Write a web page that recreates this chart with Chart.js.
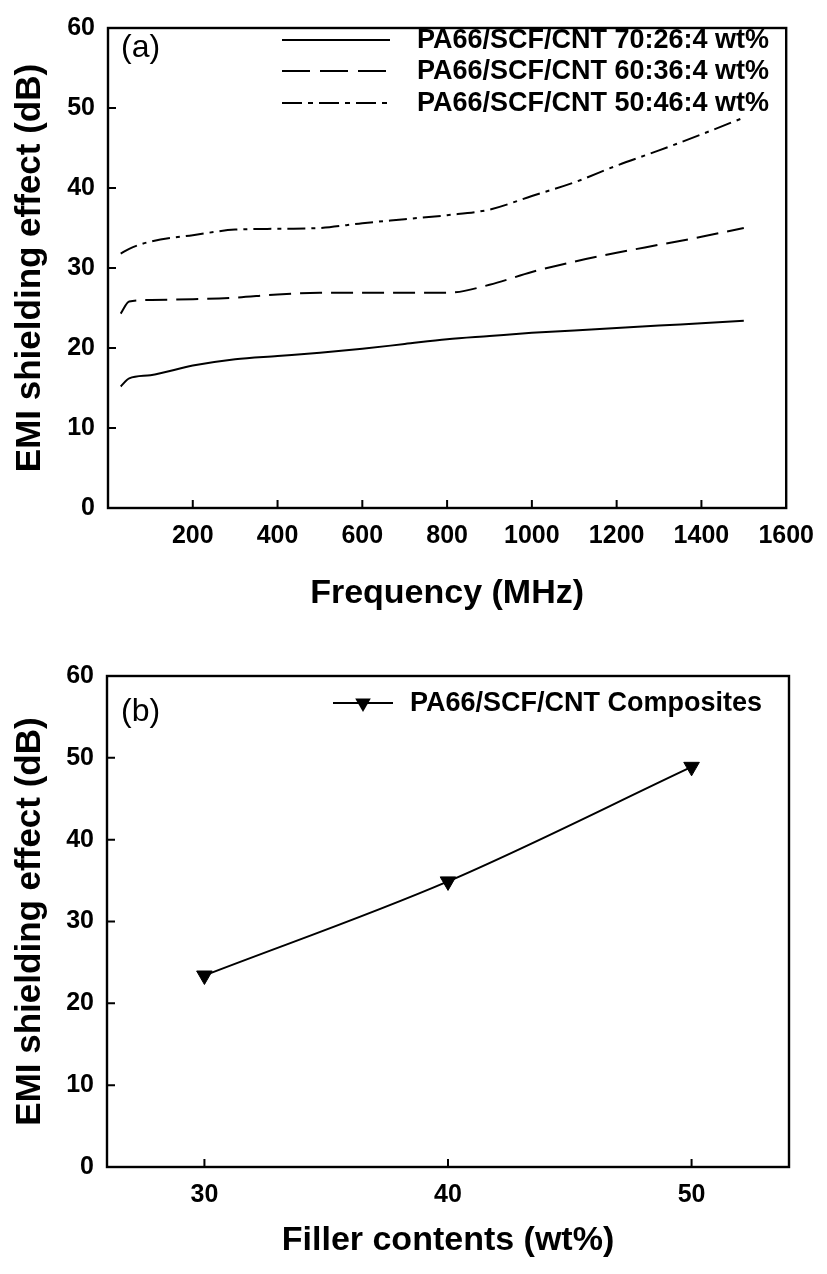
<!DOCTYPE html>
<html><head><meta charset="utf-8">
<script src="https://cdn.jsdelivr.net/npm/chart.js@4"></script>
<style>
html,body{margin:0;padding:0;background:#fff;}
#wrap{width:827px;height:1274px;position:relative;background:#fff;}
.box{position:absolute;left:0;width:827px;height:637px;}
canvas{display:block;}
</style></head><body>
<div id="wrap">
<div class="box" style="top:0"><canvas id="ca" width="827" height="637"></canvas></div>
<div class="box" style="top:637px"><canvas id="cb" width="827" height="637"></canvas></div>
</div>
<script>
// ---------- data ----------
const freqMHz = [30, 50, 100, 200, 300, 400, 500, 600, 700, 800, 900, 1000, 1100, 1200, 1300, 1400, 1500];
const se70 = [15.2, 16.2, 16.6, 17.8, 18.6, 19.0, 19.4, 19.9, 20.5, 21.1, 21.5, 21.9, 22.2, 22.5, 22.8, 23.1, 23.4];
const se60 = [24.3, 25.8, 26.0, 26.1, 26.3, 26.7, 26.9, 26.9, 26.9, 26.9, 27.9, 29.5, 30.8, 31.9, 32.9, 33.9, 35.0];
const se50 = [31.8, 32.4, 33.3, 34.1, 34.8, 34.9, 35.0, 35.6, 36.1, 36.6, 37.3, 39.0, 40.7, 42.8, 44.7, 46.7, 48.8];
const seriesLabels = ['PA66/SCF/CNT 70:26:4 wt%', 'PA66/SCF/CNT 60:36:4 wt%', 'PA66/SCF/CNT 50:46:4 wt%'];

const fillerWt = [30, 40, 50];
const seFiller = [23.4, 34.9, 48.9];
const fillerLabel = 'PA66/SCF/CNT Composites';

const titleA = { x: 'Frequency (MHz)', y: 'EMI shielding effect (dB)' };
const titleB = { x: 'Filler contents (wt%)', y: 'EMI shielding effect (dB)' };

// ---------- helpers ----------
const FONT = "'Liberation Sans', Arial, Helvetica, sans-serif";
const pts = (xs, ys) => xs.map((x, i) => ({ x: x, y: ys[i] }));

const framePlugin = {
  id: 'frame',
  afterDraw(chart) {
    const { ctx, chartArea: a, scales } = chart;
    ctx.save();
    ctx.strokeStyle = '#000';
    ctx.lineWidth = 2.4;
    ctx.setLineDash([]);
    ctx.strokeRect(a.left, a.top, a.right - a.left, a.bottom - a.top);
    const tl = 8;
    ctx.lineWidth = 2;
    ctx.beginPath();
    scales.x.ticks.forEach(t => {
      const px = scales.x.getPixelForValue(t.value);
      if (px > a.left + 2 && px < a.right - 2) { ctx.moveTo(px, a.bottom); ctx.lineTo(px, a.bottom - tl); }
    });
    scales.y.ticks.forEach(t => {
      const py = scales.y.getPixelForValue(t.value);
      if (py > a.top + 2 && py < a.bottom - 2) { ctx.moveTo(a.left, py); ctx.lineTo(a.left + tl, py); }
    });
    ctx.stroke();
    ctx.restore();
  }
};

const legendPlugin = {
  id: 'customLegend',
  afterDraw(chart, args, opts) {
    const ctx = chart.ctx;
    ctx.save();
    // panel tag
    ctx.fillStyle = '#000';
    ctx.font = 'normal 32px ' + FONT;
    ctx.textBaseline = 'middle';
    ctx.textAlign = 'left';
    ctx.fillText(opts.tag, opts.tagX, opts.tagY);
    // legend rows
    chart.data.datasets.forEach((ds, i) => {
      const y = opts.rowY[i];
      ctx.strokeStyle = ds.borderColor;
      ctx.lineWidth = ds.borderWidth;
      ctx.setLineDash(opts.legendDash ? opts.legendDash[i] : (ds.borderDash || []));
      ctx.beginPath();
      ctx.moveTo(opts.x0, y);
      ctx.lineTo(opts.x1, y);
      ctx.stroke();
      ctx.setLineDash([]);
      if (opts.marker) {
        const cx = (opts.x0 + opts.x1) / 2;
        const r = ds.pointRadius;
        ctx.fillStyle = '#000';
        ctx.beginPath();
        ctx.moveTo(cx - r * 0.866, y - r * 0.5);
        ctx.lineTo(cx + r * 0.866, y - r * 0.5);
        ctx.lineTo(cx, y + r);
        ctx.closePath();
        ctx.fill();
      }
      ctx.fillStyle = '#000';
      ctx.font = 'bold 27px ' + FONT;
      ctx.textBaseline = 'middle';
      ctx.fillText(ds.label, opts.textX, y + 1);
    });
    ctx.restore();
  }
};

function axisCommon(fontSizeTitle, titleText, titlePadding) {
  return {
    grid: { display: false, drawTicks: false },
    border: { display: false },
    title: { display: true, text: titleText, color: '#000',
             font: { family: FONT, size: fontSizeTitle, weight: 'bold' }, padding: titlePadding },
  };
}
const tickFont = { family: FONT, size: 25, weight: 'bold' };

// ---------- chart (a) ----------
new Chart(document.getElementById('ca'), {
  type: 'line',
  data: {
    datasets: [
      { label: seriesLabels[0], data: pts(freqMHz, se70), borderColor: '#000', borderWidth: 2,
        borderDash: [], pointRadius: 0, cubicInterpolationMode: 'monotone', fill: false },
      { label: seriesLabels[1], data: pts(freqMHz, se60), borderColor: '#000', borderWidth: 2,
        borderDash: [22, 9], pointRadius: 0, cubicInterpolationMode: 'monotone', fill: false },
      { label: seriesLabels[2], data: pts(freqMHz, se50), borderColor: '#000', borderWidth: 2,
        borderDash: [18, 6, 4, 6], pointRadius: 0, cubicInterpolationMode: 'monotone', fill: false }
    ]
  },
  options: {
    responsive: false, animation: false, devicePixelRatio: 1,
    layout: { padding: { top: 16, right: 38, left: 0, bottom: 0 } },
    plugins: {
      legend: { display: false }, tooltip: { enabled: false },
      customLegend: { tag: '(a)', tagX: 121, tagY: 48, x0: 282, x1: 390, textX: 417,
        rowY: [40, 71, 103], legendDash: [[], [28, 10], [20, 6, 5, 6]] }
    },
    scales: {
      x: Object.assign(axisCommon(34, titleA.x, { top: 0, bottom: 23 }), {
        type: 'linear', min: 0, max: 1600,
        ticks: { stepSize: 200, color: '#000', font: tickFont, padding: 13, maxRotation: 0, autoSkip: false,
                 callback: v => (v === 0 ? '' : String(v)) },
        afterFit: s => { s.height = 129; }
      }),
      y: Object.assign(axisCommon(35, titleA.y, { top: 9, bottom: 0 }), {
        type: 'linear', min: 0, max: 60,
        ticks: { stepSize: 10, color: '#000', font: tickFont, padding: 13, callback: v => String(v) },
        afterFit: s => { s.width = 108; }
      })
    }
  },
  plugins: [framePlugin, legendPlugin]
});

// ---------- chart (b) ----------
new Chart(document.getElementById('cb'), {
  type: 'line',
  data: {
    datasets: [
      { label: fillerLabel, data: pts(fillerWt, seFiller), borderColor: '#000', borderWidth: 2,
        pointStyle: 'triangle', rotation: 180, pointRadius: 9, pointBackgroundColor: '#000',
        pointBorderColor: '#000', pointBorderWidth: 1, cubicInterpolationMode: 'monotone', fill: false }
    ]
  },
  options: {
    responsive: false, animation: false, devicePixelRatio: 1,
    layout: { padding: { top: 39, right: 38, left: 0, bottom: 0 } },
    plugins: {
      legend: { display: false }, tooltip: { enabled: false },
      customLegend: { tag: '(b)', tagX: 121, tagY: 75, x0: 333, x1: 393, textX: 410,
        rowY: [66], marker: true }
    },
    scales: {
      x: Object.assign(axisCommon(34, titleB.x, { top: 0, bottom: 13 }), {
        type: 'linear', min: 26, max: 54,
        afterBuildTicks: s => { s.ticks = fillerWt.map(v => ({ value: v })); },
        ticks: { color: '#000', font: tickFont, padding: 13, maxRotation: 0, autoSkip: false,
                 callback: v => String(v) },
        afterFit: s => { s.height = 107; }
      }),
      y: Object.assign(axisCommon(35, titleB.y, { top: 9, bottom: 0 }), {
        type: 'linear', min: 0, max: 60,
        ticks: { stepSize: 10, color: '#000', font: tickFont, padding: 13, callback: v => String(v) },
        afterFit: s => { s.width = 107; }
      })
    }
  },
  plugins: [framePlugin, legendPlugin]
});
</script>
</body></html>
